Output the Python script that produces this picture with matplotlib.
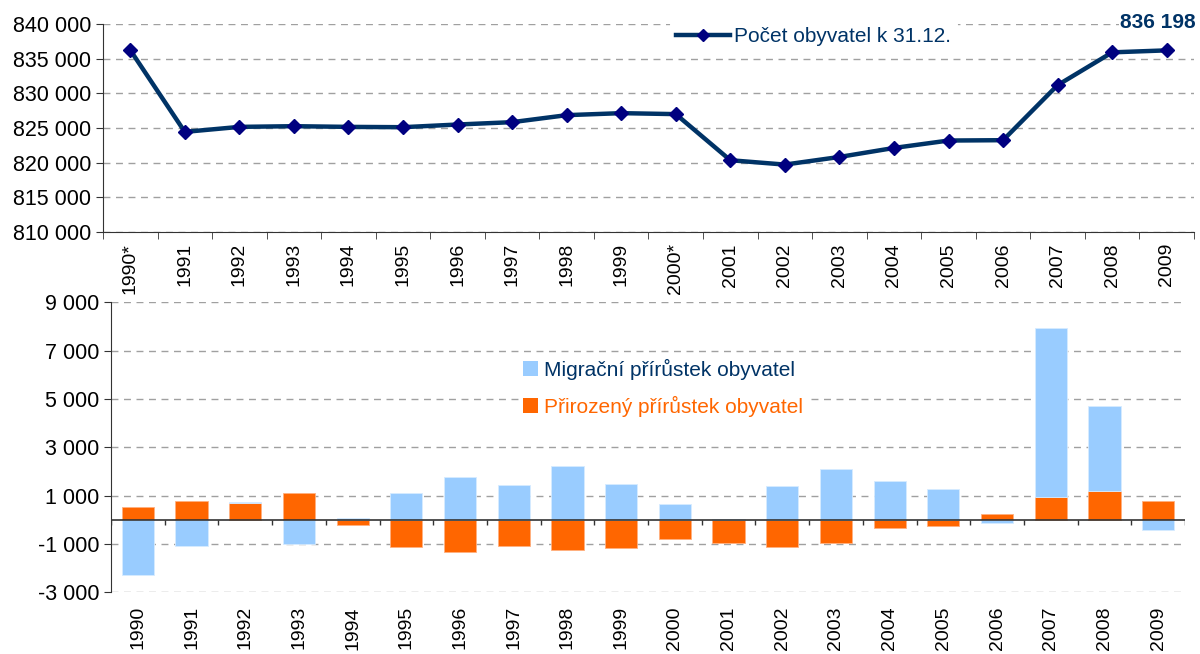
import numpy as np
import matplotlib.pyplot as plt
from matplotlib.ticker import FuncFormatter, FixedLocator
from matplotlib.lines import Line2D
from matplotlib.patches import Patch

plt.rcParams['font.family'] = ['Liberation Sans', 'DejaVu Sans']

# ----- data -----
years_top = ["1990*", "1991", "1992", "1993", "1994", "1995", "1996", "1997", "1998", "1999",
             "2000*", "2001", "2002", "2003", "2004", "2005", "2006", "2007", "2008", "2009"]
years_bottom = [str(y) for y in range(1990, 2010)]

population = [836243, 824437, 825160, 825260, 825160, 825115, 825500, 825840, 826850, 827140,
              827000, 820350, 819720, 820820, 822120, 823190, 823240, 831180, 835910, 836198]

natural = [517, 765, 708, 1096, -228, -1138, -1320, -1097, -1237, -1167,
           -794, -960, -1125, -947, -339, -257, 240, 956, 1204, 765]
migration = [-2296, -1071, 42, -1014, 74, 1109, 1771, 1440, 2226, 1468,
             654, 15, 1386, 2089, 1605, 1274, -145, 6967, 3504, -434]

NAVY = "#003366"
MARKER = "#000080"
BLUE = "#99CCFF"
ORANGE = "#FF6600"
GRID = "#a0a0a0"

def spaced(v, pos=None):
    return f"{v:,.0f}".replace(",", " ")

fig = plt.figure(figsize=(12, 6.54), dpi=100)
ax1 = fig.add_axes([0.0858, 0.6453, 0.9092, 0.318])
ax2 = fig.add_axes([0.0925, 0.0944, 0.895, 0.4434])

x = np.arange(len(years_top))
bounds = np.arange(-0.5, len(years_top), 1.0)

# ----- top: population line -----
ax1.plot(x, population, color=NAVY, lw=3.2, marker="D", markersize=7.5,
         markerfacecolor=MARKER, markeredgecolor=MARKER, zorder=3)
ax1.set_xlim(-0.5, len(x) - 0.5)
ax1.set_ylim(810000, 840000)
ax1.set_yticks(np.arange(810000, 840001, 5000))
ax1.yaxis.set_major_formatter(FuncFormatter(spaced))
ax1.set_xticks(x)
ax1.set_xticklabels(years_top, rotation=90, va="top", ha="center", fontsize=14)
ax1.xaxis.set_minor_locator(FixedLocator(bounds))
ax1.tick_params(axis="x", which="major", length=0, pad=8)
ax1.tick_params(axis="x", which="minor", length=5, direction="out", color="#333333")
ax1.tick_params(axis="y", length=5, labelsize=15.5, color="#333333")
for s in ["top", "right"]:
    ax1.spines[s].set_visible(False)
for s in ["left", "bottom"]:
    ax1.spines[s].set_color("#333333")
ax1.yaxis.grid(True, linestyle=(0, (5, 4)), color=GRID, lw=1)
ax1.set_axisbelow(True)

ax1.annotate(spaced(population[-1]), (x[-1], population[-1]), xytext=(21, 20),
             textcoords="offset points", ha="right", va="center", fontsize=15,
             fontweight="bold", color=NAVY,
             bbox=dict(facecolor="white", edgecolor="none", pad=1))

h_line = Line2D([], [], color=NAVY, lw=3.2, marker="D", markersize=6,
                markerfacecolor=MARKER, markeredgecolor=MARKER)
leg1 = ax1.legend([h_line], ["Počet obyvatel k 31.12."], loc="upper left",
                  bbox_to_anchor=(0.51, 1.065), frameon=True, fontsize=15,
                  handlelength=2.6, handletextpad=0.2, borderpad=0.3)
leg1.get_frame().set_edgecolor("none")
leg1.get_frame().set_facecolor("white")
leg1.get_frame().set_alpha(1)
for t in leg1.get_texts():
    t.set_color(NAVY)

# ----- bottom: stacked bars -----
nat = np.array(natural)
mig = np.array(migration)
mig_bottom = np.where((mig >= 0) == (nat >= 0), nat, 0)
w = 0.6
ax2.bar(x, nat, width=w, color=ORANGE, edgecolor="#ffb080", lw=0.6, zorder=2)
ax2.bar(x, mig, width=w, bottom=mig_bottom, color=BLUE, edgecolor="#d6ebff", lw=0.6, zorder=2)

ax2.set_xlim(-0.5, len(x) - 0.5)
ax2.set_ylim(-3000, 9000)
ax2.set_yticks(np.arange(-3000, 9001, 2000))
ax2.yaxis.set_major_formatter(FuncFormatter(spaced))
ax2.set_xticks(x)
ax2.set_xticklabels(years_bottom, rotation=90, va="top", ha="center", fontsize=14)
ax2.tick_params(axis="x", length=0, pad=10)
ax2.tick_params(axis="y", length=5, labelsize=15.5, color="#333333")
for s in ["top", "right", "bottom"]:
    ax2.spines[s].set_visible(False)
ax2.spines["left"].set_color("#333333")
ax2.yaxis.grid(True, linestyle=(0, (5, 4)), color=GRID, lw=1)
ax2.set_axisbelow(True)
ax2.axhline(0, color="#333333", lw=1.2, zorder=3)
ax2.vlines(bounds, -200, 0, color="#333333", lw=1, zorder=3)

h_mig = Patch(facecolor=BLUE, edgecolor="none")
h_nat = Patch(facecolor=ORANGE, edgecolor="none")
leg2 = ax2.legend([h_mig, h_nat], ["Migrační přírůstek obyvatel", "Přirozený přírůstek obyvatel"],
                  loc="upper left", bbox_to_anchor=(0.37, 0.855), frameon=True, fontsize=15,
                  handlelength=0.7, handleheight=0.7, handletextpad=0.3, labelspacing=0.75,
                  borderpad=0.2)
leg2.get_frame().set_edgecolor("none")
leg2.get_frame().set_facecolor("white")
leg2.get_frame().set_alpha(1)
leg2.get_texts()[0].set_color(NAVY)
leg2.get_texts()[1].set_color(ORANGE)

fig.savefig("out.png", dpi=100)
